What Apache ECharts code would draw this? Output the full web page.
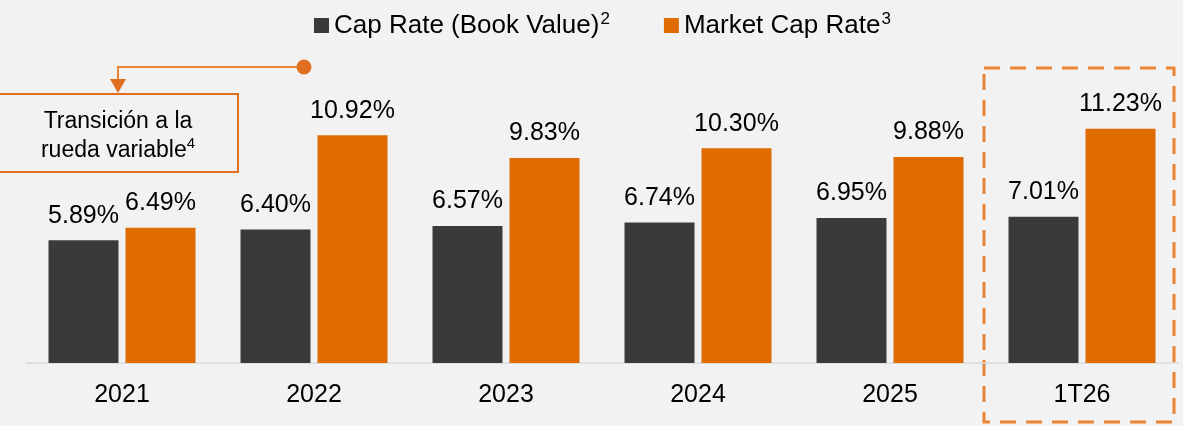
<!DOCTYPE html>
<html>
<head>
<meta charset="utf-8">
<script src="https://cdn.jsdelivr.net/npm/echarts@6/dist/echarts.min.js"></script>
<style>
  html, body { margin: 0; padding: 0; background: #f2f2f2; }
  #chart { width: 1183px; height: 426px; }
</style>
</head>
<body>
<div id="chart"></div>
<script>
// data
const categories = ['2021', '2022', '2023', '2024', '2025', '1T26'];
const bookCapRate = [5.89, 6.40, 6.57, 6.74, 6.95, 7.01];
const marketCapRate = [6.49, 10.92, 9.83, 10.30, 9.88, 11.23];

const DARK = '#3b3a38';
const ORANGE = '#e06c00';
const LINE_ORANGE = '#ea8435';
const FONT = '"Liberation Sans", Arial, sans-serif';

let chart = echarts.init(document.getElementById('chart'));

const labelStyle = {
  show: true,
  position: 'top',
  distance: 12,
  color: '#000',
  fontFamily: FONT,
  fontSize: 25,
  formatter: p => p.value.toFixed(2) + '%'
};

chart.setOption({
  backgroundColor: '#f2f2f2',
  animation: false,
  legend: {
    top: 6,
    left: 309,
    itemWidth: 15,
    itemHeight: 15,
    itemGap: 54,
    icon: 'rect',
    textStyle: {
      fontFamily: FONT,
      fontSize: 26,
      color: '#000',
      rich: {
        t: { fontFamily: FONT, fontSize: 26, color: '#000' },
        s: { fontFamily: FONT, fontSize: 17, color: '#000', verticalAlign: 'top', padding: [0, 0, 12, 1] }
      }
    },
    formatter: name => name === 'Cap Rate (Book Value)'
      ? '{t|Cap Rate (Book Value)}{s|2}'
      : '{t|Market Cap Rate}{s|3}'
  },
  grid: { left: 26, right: 5, top: 71, bottom: 63 },
  xAxis: {
    type: 'category',
    data: categories,
    axisLine: { lineStyle: { color: '#d9d9d9', width: 1.5 } },
    axisTick: { show: false },
    axisLabel: {
      color: '#000',
      fontFamily: FONT,
      fontSize: 25,
      margin: 20
    }
  },
  yAxis: {
    type: 'value',
    min: 0,
    max: 14,
    show: false,
    splitLine: { show: false }
  },
  series: [
    {
      name: 'Cap Rate (Book Value)',
      type: 'bar',
      data: bookCapRate,
      barWidth: 70,
      barGap: '10%',
      itemStyle: { color: DARK },
      label: labelStyle
    },
    {
      name: 'Market Cap Rate',
      type: 'bar',
      data: marketCapRate,
      barWidth: 70,
      itemStyle: { color: ORANGE },
      label: labelStyle
    }
  ],
  graphic: [
    // dashed highlight around the latest quarter
    {
      type: 'rect',
      shape: { x: 984, y: 68, width: 190, height: 354 },
      style: { fill: 'none', stroke: LINE_ORANGE, lineWidth: 3, lineDash: [16, 10] }
    },
    // annotation box
    {
      type: 'rect',
      shape: { x: -2, y: 94, width: 240, height: 78 },
      style: { fill: 'none', stroke: '#e07020', lineWidth: 2 }
    },
    {
      type: 'text',
      x: 118, y: 136,
      style: {
        text: '{t|Transición a la}\n{t|rueda variable}{s|4}',
        align: 'center',
        verticalAlign: 'middle',
        rich: {
          t: { fontFamily: FONT, fontSize: 23, color: '#000', lineHeight: 29 },
          s: { fontFamily: FONT, fontSize: 15, color: '#000', verticalAlign: 'top', padding: [0, 0, 12, 0] }
        }
      }
    },
    {
      type: 'polyline',
      shape: { points: [[304, 67], [118, 67], [118, 80]] },
      style: { fill: 'none', stroke: LINE_ORANGE, lineWidth: 2 }
    },
    {
      type: 'polygon',
      shape: { points: [[110, 79], [126, 79], [118, 93]] },
      style: { fill: '#e07020' }
    },
    {
      type: 'circle',
      shape: { cx: 304, cy: 67, r: 7.5 },
      style: { fill: '#e07020' }
    }
  ]
});
</script>
</body>
</html>
